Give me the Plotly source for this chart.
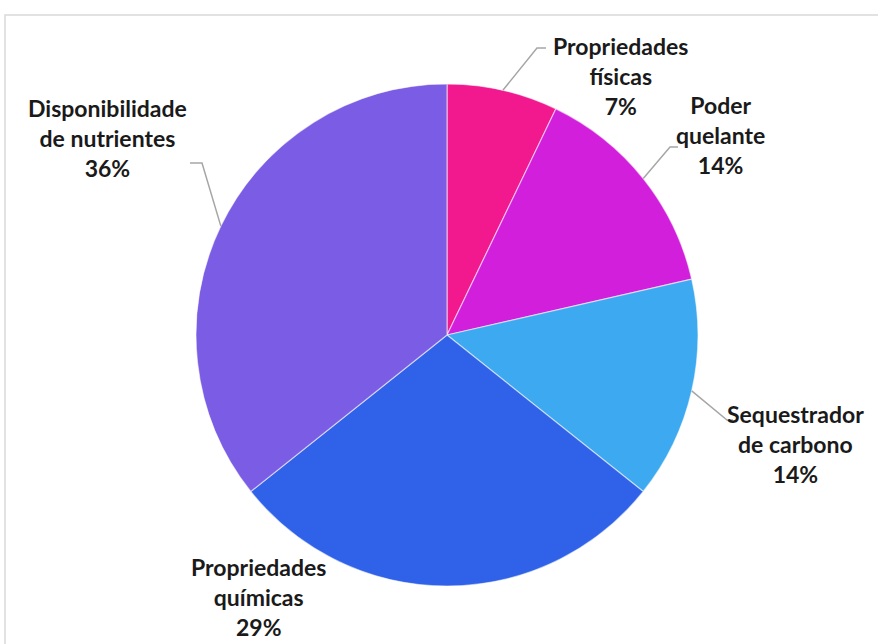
import math
import plotly.graph_objects as go

# Share of studies by reported benefit (counts out of 14)
categories = [
    "Propriedades<br>físicas",
    "Poder<br>quelante",
    "Sequestrador<br>de carbono",
    "Propriedades<br>químicas",
    "Disponibilidade<br>de nutrientes",
]
counts = [1, 2, 2, 4, 5]
colors = ["#F2198E", "#D21FDC", "#3DA9F0", "#2F62E8", "#7B5CE4"]

W, H = 878, 644
CX, CY, R = 447, 335, 251  # pie centre and radius in pixels


def px(x):
    return x / W


def py(y):
    return 1 - y / H


fig = go.Figure(
    go.Pie(
        values=counts,
        labels=categories,
        marker=dict(colors=colors, line=dict(color="rgba(255,255,255,0.55)", width=1.2)),
        sort=False,
        direction="clockwise",
        rotation=0,
        textinfo="none",
        hoverinfo="label+percent",
        domain=dict(x=[px(CX - R), px(CX + R)], y=[py(CY + R), py(CY - R)]),
        showlegend=False,
    )
)

total = sum(counts)
pcts = [round(100 * c / total) for c in counts]

# label anchor (centre of text block, px) and leader elbow offsets
label_pos = [(620, 76), (720, 135), (795, 444), (258, 597), (107, 138)]
elbows = [((537, 48), (546, 48)), ((670, 147), (678, 147)),
          ((727, 420), (733, 420)), None, ((202, 163), (190, 163))]

shapes = []
annotations = []
cum = 0
for i, c in enumerate(counts):
    mid = (cum + c / 2) / total * 2 * math.pi
    cum += c
    sx = CX + R * math.sin(mid)
    sy = CY - R * math.cos(mid)
    if elbows[i] is not None:
        (ex, ey), (hx, hy) = elbows[i]
        path = f"M {px(sx)} {py(sy)} L {px(ex)} {py(ey)} L {px(hx)} {py(hy)}"
        shapes.append(dict(type="path", xref="paper", yref="paper", path=path,
                           line=dict(color="#A6A6A6", width=1.5)))
    lx, ly = label_pos[i]
    annotations.append(dict(
        x=px(lx), y=py(ly), xref="paper", yref="paper",
        text=f"<b>{categories[i]}<br>{pcts[i]}%</b>",
        showarrow=False, align="center", xanchor="center", yanchor="middle",
        font=dict(family="Lato", size=23, color="#1A1A1A"),
    ))

# chart-area frame
shapes.append(dict(type="rect", xref="paper", yref="paper",
                   x0=px(5), x1=1.01, y0=-0.01, y1=py(15),
                   line=dict(color="#D9D9D9", width=1.5), layer="below"))

fig.update_layout(
    width=W, height=H,
    margin=dict(l=0, r=0, t=0, b=0),
    paper_bgcolor="white",
    plot_bgcolor="white",
    shapes=shapes,
    annotations=annotations,
)

fig.write_html("out.html")
